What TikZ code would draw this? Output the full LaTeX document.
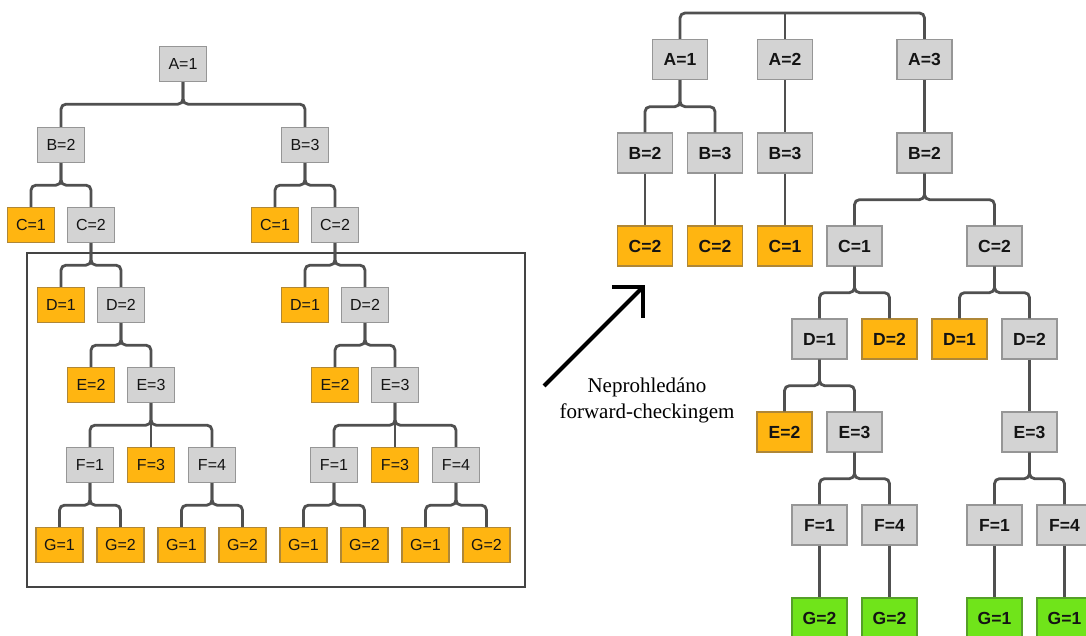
\documentclass[tikz,border=0pt]{standalone}
\usepackage{fontspec}
\usepackage{tikz}
\usetikzlibrary{arrows.meta, positioning, calc}
\newfontfamily\arialfont{Liberation Sans}
\newfontfamily\timesfont{Liberation Serif}
\definecolor{boxgray}{RGB}{211,211,211}
\definecolor{edgegray}{RGB}{150,150,150}
\definecolor{boxorange}{RGB}{255,181,17}
\definecolor{edgeorange}{RGB}{175,135,55}
\definecolor{boxgreen}{RGB}{112,228,26}
\definecolor{edgegreen}{RGB}{85,160,40}
\definecolor{linedark}{RGB}{80,80,80}
\definecolor{mydark}{RGB}{20,20,20}
\tikzset{
  gbox/.style={rectangle, draw=edgegray, fill=boxgray, line width=1.3pt,
    minimum width=47pt, minimum height=35pt, inner sep=0pt,
    font=\arialfont\fontsize{16}{18}\selectfont, text=mydark},
  obox/.style={gbox, draw=edgeorange, fill=boxorange},
  rgbox/.style={gbox, minimum width=55pt, minimum height=40pt,
    font=\arialfont\bfseries\fontsize{17.5}{20}\selectfont},
  robox/.style={rgbox, draw=edgeorange, fill=boxorange},
  rgrbox/.style={rgbox, draw=edgegreen, fill=boxgreen},
  conn/.style={line width=2.8pt, draw=linedark, rounded corners=5pt},
  boxframe/.style={line width=1.6pt, draw=linedark!85!black},
  bigarrow/.style={-{Straight Barb[length=22pt, width=44pt]}, line width=4pt, color=black},
  notetext/.style={align=center, font=\timesfont\fontsize{21}{26}\selectfont, text=black}
}

\begin{document}
\begin{tikzpicture}[x=1pt, y=-1pt]
  \useasboundingbox (0,0) rectangle (1086,635);
  \clip (0,0) rectangle (1086,635);
  \fill[white] (0,0) rectangle (1086,635);

  % left tree
  \draw[boxframe] (27,253) rectangle (525,587);
  \node[gbox] (a1) at (183,64) {A=1};
  \node[gbox] (b2) at ($(a1)+(-122,81)$) {B=2};
  \node[gbox] (b3) at ($(a1)+(122,81)$) {B=3};
  \node[obox] (c1) at ($(b2)+(-30,80)$) {C=1};
  \node[gbox] (c2) at ($(b2)+(30,80)$) {C=2};
  \node[obox] (c1x) at ($(b3)+(-30,80)$) {C=1};
  \node[gbox] (c2x) at ($(b3)+(30,80)$) {C=2};
  \node[obox] (d1) at ($(c2)+(-30,80)$) {D=1};
  \node[gbox] (d2) at ($(c2)+(30,80)$) {D=2};
  \node[obox] (e2) at ($(d2)+(-30,80)$) {E=2};
  \node[gbox] (e3) at ($(d2)+(30,80)$) {E=3};
  \node[gbox] (f1) at ($(e3)+(-61,80)$) {F=1};
  \node[obox] (f3) at ($(e3)+(0,80)$) {F=3};
  \node[gbox] (f4) at ($(e3)+(61,80)$) {F=4};
  \node[obox] (g1) at ($(f1)+(-30.5,80)$) {G=1};
  \node[obox] (g2) at ($(f1)+(30.5,80)$) {G=2};
  \node[obox] (g3) at ($(f4)+(-30.5,80)$) {G=1};
  \node[obox] (g4) at ($(f4)+(30.5,80)$) {G=2};
  \node[obox] (d1x) at ($(c2x)+(-30,80)$) {D=1};
  \node[gbox] (d2x) at ($(c2x)+(30,80)$) {D=2};
  \node[obox] (e2x) at ($(d2x)+(-30,80)$) {E=2};
  \node[gbox] (e3x) at ($(d2x)+(30,80)$) {E=3};
  \node[gbox] (f1x) at ($(e3x)+(-61,80)$) {F=1};
  \node[obox] (f3x) at ($(e3x)+(0,80)$) {F=3};
  \node[gbox] (f4x) at ($(e3x)+(61,80)$) {F=4};
  \node[obox] (g1x) at ($(f1x)+(-30.5,80)$) {G=1};
  \node[obox] (g2x) at ($(f1x)+(30.5,80)$) {G=2};
  \node[obox] (g3x) at ($(f4x)+(-30.5,80)$) {G=1};
  \node[obox] (g4x) at ($(f4x)+(30.5,80)$) {G=2};

  \draw[conn] (a1.south) -- ++(0,22) -| (b2.north);
  \draw[conn] (a1.south) -- ++(0,22) -| (b3.north);
  \draw[conn] (b2.south) -- ++(0,22) -| (c1.north);
  \draw[conn] (b2.south) -- ++(0,22) -| (c2.north);
  \draw[conn] (b3.south) -- ++(0,22) -| (c1x.north);
  \draw[conn] (b3.south) -- ++(0,22) -| (c2x.north);
  \draw[conn] (c2.south) -- ++(0,22) -| (d1.north);
  \draw[conn] (c2.south) -- ++(0,22) -| (d2.north);
  \draw[conn] (d2.south) -- ++(0,22) -| (e2.north);
  \draw[conn] (d2.south) -- ++(0,22) -| (e3.north);
  \draw[conn] (e3.south) -- ++(0,22) -| (f1.north);
  \draw[conn] (e3.south) -- (f3.north);
  \draw[conn] (e3.south) -- ++(0,22) -| (f4.north);
  \draw[conn] (f1.south) -- ++(0,22) -| (g1.north);
  \draw[conn] (f1.south) -- ++(0,22) -| (g2.north);
  \draw[conn] (f4.south) -- ++(0,22) -| (g3.north);
  \draw[conn] (f4.south) -- ++(0,22) -| (g4.north);
  \draw[conn] (c2x.south) -- ++(0,22) -| (d1x.north);
  \draw[conn] (c2x.south) -- ++(0,22) -| (d2x.north);
  \draw[conn] (d2x.south) -- ++(0,22) -| (e2x.north);
  \draw[conn] (d2x.south) -- ++(0,22) -| (e3x.north);
  \draw[conn] (e3x.south) -- ++(0,22) -| (f1x.north);
  \draw[conn] (e3x.south) -- (f3x.north);
  \draw[conn] (e3x.south) -- ++(0,22) -| (f4x.north);
  \draw[conn] (f1x.south) -- ++(0,22) -| (g1x.north);
  \draw[conn] (f1x.south) -- ++(0,22) -| (g2x.north);
  \draw[conn] (f4x.south) -- ++(0,22) -| (g3x.north);
  \draw[conn] (f4x.south) -- ++(0,22) -| (g4x.north);

  % arrow and note
  \coordinate (atail) at (544,386);
  \coordinate (ahead) at (645,285);
  \draw[bigarrow] (atail) -- (ahead);
  \node[notetext] (note) at (647,400) {Neprohledáno\\forward-checkingem};

  % right tree
  \coordinate (rtop) at (802,13);
  \node[rgbox] (ra1) at (680,59.5) {A=1};
  \node[rgbox] (ra2) at (785,59.5) {A=2};
  \node[rgbox] (ra3) at (924.5,59.5) {A=3};
  \node[rgbox] (rb2) at ($(ra1)+(-35,93.5)$) {B=2};
  \node[rgbox] (rb3) at ($(ra1)+(35,93.5)$) {B=3};
  \node[rgbox] (rb3x) at ($(ra2)+(0,93.5)$) {B=3};
  \node[rgbox] (rb2x) at ($(ra3)+(0,93.5)$) {B=2};
  \node[robox] (rc2) at ($(rb2)+(0,93)$) {C=2};
  \node[robox] (rc2y) at ($(rb3)+(0,93)$) {C=2};
  \node[robox] (rc1y) at ($(rb3x)+(0,93)$) {C=1};
  \node[rgbox] (rc1) at ($(rb2x)+(-70,93)$) {C=1};
  \node[rgbox] (rc2x) at ($(rb2x)+(70,93)$) {C=2};
  \node[rgbox] (rd1) at ($(rc1)+(-35,93)$) {D=1};
  \node[robox] (rd2) at ($(rc1)+(35,93)$) {D=2};
  \node[robox] (rd1x) at ($(rc2x)+(-35,93)$) {D=1};
  \node[rgbox] (rd2x) at ($(rc2x)+(35,93)$) {D=2};
  \node[robox] (re2) at ($(rd1)+(-35,93)$) {E=2};
  \node[rgbox] (re3) at ($(rd1)+(35,93)$) {E=3};
  \node[rgbox] (re3x) at ($(rd2x)+(0,93)$) {E=3};
  \node[rgbox] (rf1) at ($(re3)+(-35,93)$) {F=1};
  \node[rgbox] (rf4) at ($(re3)+(35,93)$) {F=4};
  \node[rgbox] (rf1x) at ($(re3x)+(-35,93)$) {F=1};
  \node[rgbox] (rf4x) at ($(re3x)+(35,93)$) {F=4};
  \node[rgrbox] (rg2) at ($(rf1)+(0,93)$) {G=2};
  \node[rgrbox] (rg2y) at ($(rf4)+(0,93)$) {G=2};
  \node[rgrbox] (rg1) at ($(rf1x)+(0,93)$) {G=1};
  \node[rgrbox] (rg1y) at ($(rf4x)+(0,93)$) {G=1};

  \draw[conn] (ra1.north) |- (rtop) -| (ra3.north);
  \draw[conn] (ra2.north) -- (ra2.north |- rtop);
  \draw[conn] (ra1.south) -- ++(0,26.5) -| (rb2.north);
  \draw[conn] (ra1.south) -- ++(0,26.5) -| (rb3.north);
  \draw[conn] (ra2.south) -- (rb3x.north);
  \draw[conn] (ra3.south) -- (rb2x.north);
  \draw[conn] (rb2.south) -- (rc2.north);
  \draw[conn] (rb3.south) -- (rc2y.north);
  \draw[conn] (rb3x.south) -- (rc1y.north);
  \draw[conn] (rb2x.south) -- ++(0,26) -| (rc1.north);
  \draw[conn] (rb2x.south) -- ++(0,26) -| (rc2x.north);
  \draw[conn] (rc1.south) -- ++(0,26) -| (rd1.north);
  \draw[conn] (rc1.south) -- ++(0,26) -| (rd2.north);
  \draw[conn] (rc2x.south) -- ++(0,26) -| (rd1x.north);
  \draw[conn] (rc2x.south) -- ++(0,26) -| (rd2x.north);
  \draw[conn] (rd1.south) -- ++(0,26) -| (re2.north);
  \draw[conn] (rd1.south) -- ++(0,26) -| (re3.north);
  \draw[conn] (rd2x.south) -- (re3x.north);
  \draw[conn] (re3.south) -- ++(0,26) -| (rf1.north);
  \draw[conn] (re3.south) -- ++(0,26) -| (rf4.north);
  \draw[conn] (re3x.south) -- ++(0,26) -| (rf1x.north);
  \draw[conn] (re3x.south) -- ++(0,26) -| (rf4x.north);
  \draw[conn] (rf1.south) -- (rg2.north);
  \draw[conn] (rf4.south) -- (rg2y.north);
  \draw[conn] (rf1x.south) -- (rg1.north);
  \draw[conn] (rf4x.south) -- (rg1y.north);
\end{tikzpicture}
\end{document}
